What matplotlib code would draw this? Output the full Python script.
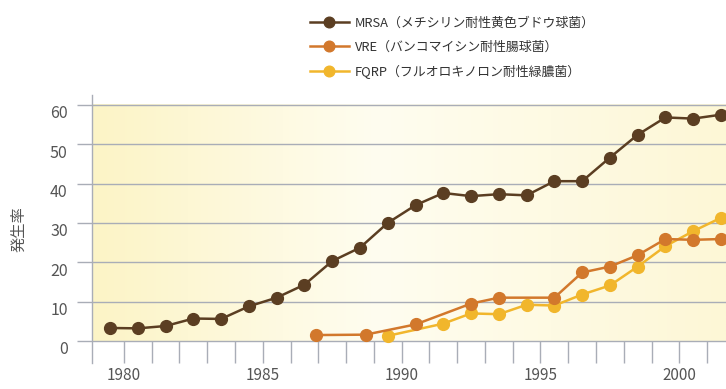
import numpy as np
import matplotlib
matplotlib.use("Agg")
import matplotlib.pyplot as plt
from matplotlib.colors import LinearSegmentedColormap
from matplotlib.transforms import ScaledTranslation

plt.rcParams['font.family'] = ['Noto Sans CJK JP', 'DejaVu Sans']

# --- データ ---
mrsa_years = list(range(1979, 2002))
mrsa_vals = [3.3, 3.2, 3.8, 5.7, 5.6, 8.8, 11.0, 14.3, 20.3, 23.7, 30.0, 34.5,
             37.6, 36.8, 37.3, 37.0, 40.6, 40.6, 46.6, 52.4, 56.8, 56.5, 57.5]

vre_years = [1986.4, 1988.2, 1990, 1992, 1993, 1995, 1996, 1997, 1998, 1999, 2000, 2001]
vre_vals = [1.5, 1.6, 4.2, 9.5, 11.0, 11.0, 17.4, 18.9, 21.8, 25.9, 25.7, 25.9]

fqrp_years = [1989, 1991, 1992, 1993, 1994, 1995, 1996, 1997, 1998, 1999, 2000, 2001]
fqrp_vals = [1.3, 4.4, 7.0, 6.8, 9.2, 9.0, 11.8, 14.1, 18.9, 24.1, 27.9, 31.3]

series_labels = ["MRSA（メチシリン耐性黄色ブドウ球菌）",
                 "VRE（バンコマイシン耐性腸球菌）",
                 "FQRP（フルオロキノロン耐性緑膿菌）"]
y_label = "発生率"
year_ticks = list(range(1980, 2002))
year_labels = [1980, 1985, 1990, 1995, 2000]
y_ticks = [0, 10, 20, 30, 40, 50, 60]
# ---------------

COL_MRSA = "#5b3e22"
COL_VRE = "#d2782c"
COL_FQRP = "#f1b62c"
COL_GRID = "#a9adb7"
COL_TEXT = "#555555"

fig = plt.figure(figsize=(7.26, 3.89), dpi=100)
ax = fig.add_axes([92 / 726, 26 / 389, 634 / 726, 268 / 389])
xmin, xmax = 1978.85, 2001.68
ax.set_xlim(xmin, xmax)
ax.set_ylim(-5.6, 62.5)

# 背景のグラデーション
cmap = LinearSegmentedColormap.from_list(
    "bg", [(0.0, "#fcf4c6"), (0.45, "#fffdf0"), (1.0, "#fdf7d6")])
grad = np.linspace(0, 1, 256).reshape(1, -1)
ax.imshow(grad, cmap=cmap, aspect='auto', extent=[xmin, xmax, 0, 60],
          zorder=0, interpolation='bilinear')

# 軸と目盛り
for s in ['top', 'right', 'bottom']:
    ax.spines[s].set_visible(False)
ax.spines['left'].set_color(COL_GRID)
ax.spines['left'].set_linewidth(1.0)

ax.set_yticks(y_ticks)
ax.yaxis.grid(True, color=COL_GRID, linewidth=1.0, zorder=1)
ax.tick_params(axis='y', direction='out', length=10.5, width=1.0,
               color=COL_GRID, labelcolor=COL_TEXT, labelsize=11.5, pad=7)
shift = ScaledTranslation(0, -7 / 100, fig.dpi_scale_trans)
for lab in ax.get_yticklabels():
    lab.set_transform(lab.get_transform() + shift)

ax.set_xticks(year_ticks)
ax.set_xticklabels([str(y) if y in year_labels else "" for y in year_ticks])
ax.tick_params(axis='x', direction='in', length=16, width=1.0,
               color=COL_GRID, labelcolor=COL_TEXT, labelsize=11, pad=3)
ax.set_axisbelow(True)

ax.set_ylabel(y_label, color=COL_TEXT, fontsize=11, labelpad=16)

# 折れ線（点は年の中央）
kw = dict(marker='o', markersize=8.5, linewidth=1.8, clip_on=False)
l3, = ax.plot(np.array(fqrp_years) + 0.5, fqrp_vals, color=COL_FQRP, zorder=3, **kw)
l2, = ax.plot(np.array(vre_years) + 0.5, vre_vals, color=COL_VRE, zorder=4, **kw)
l1, = ax.plot(np.array(mrsa_years) + 0.5, mrsa_vals, color=COL_MRSA, zorder=5, **kw)

leg = fig.legend([l1, l2, l3], series_labels, loc='upper left',
                 bbox_to_anchor=(310 / 726, 1 - 17 / 389),
                 bbox_transform=fig.transFigure, frameon=False,
                 fontsize=9.3, labelcolor="#333333", handlelength=3.0,
                 handletextpad=0.45, labelspacing=0.85, borderpad=0,
                 borderaxespad=0, markerscale=0.9)

fig.savefig("out.png", dpi=100)
